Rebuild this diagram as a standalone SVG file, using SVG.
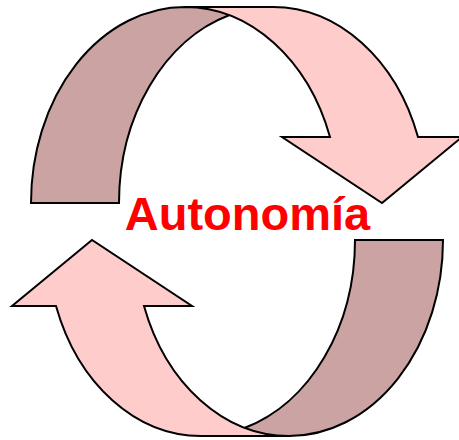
<svg xmlns="http://www.w3.org/2000/svg" xmlns:xlink="http://www.w3.org/1999/xlink" width="459" height="440" viewBox="0 0 459 440">
  <style>
    .front { fill: #FFCCCC; stroke: none; }
    .back { fill: #CCA3A3; stroke: none; }
    .outline { fill: none; stroke: #000000; stroke-width: 2; stroke-linejoin: miter; stroke-miterlimit: 10; }
    .label { font-family: "Liberation Sans", Arial, sans-serif; font-weight: bold; font-size: 47px; fill: #FF0000; }
  </style>
  <defs>
    <g id="curved-arrow">
      <path class="front" d="M 382,203 L 282,137 L 330,137 A 154 196 0 0 0 185,7 L 273,7 A 154 196 0 0 1 418,137 L 462,137 Z"/>
      <path class="back" d="M 229,15.2 A 154 196 0 0 0 119,203 L 31,203 A 154 196 0 0 1 229,15.2 Z"/>
      <path class="outline" d="M 229,15.2 A 154 196 0 0 0 119,203 L 31,203 A 154 196 0 0 1 185,7 L 273,7 A 154 196 0 0 1 418,137 L 462,137 L 382,203 L 282,137 L 330,137 A 154 196 0 0 0 185,7"/>
    </g>
  </defs>
  <g id="connectors">
    <g id="arrow-top">
      <use xlink:href="#curved-arrow" href="#curved-arrow"/>
    </g>
    <g id="arrow-bottom">
      <use xlink:href="#curved-arrow" href="#curved-arrow" transform="rotate(180 237 221.5)"/>
    </g>
  </g>
  <g id="label-autonomia">
    <text class="label" x="247.5" y="230" text-anchor="middle">Autonomía</text>
  </g>
</svg>
